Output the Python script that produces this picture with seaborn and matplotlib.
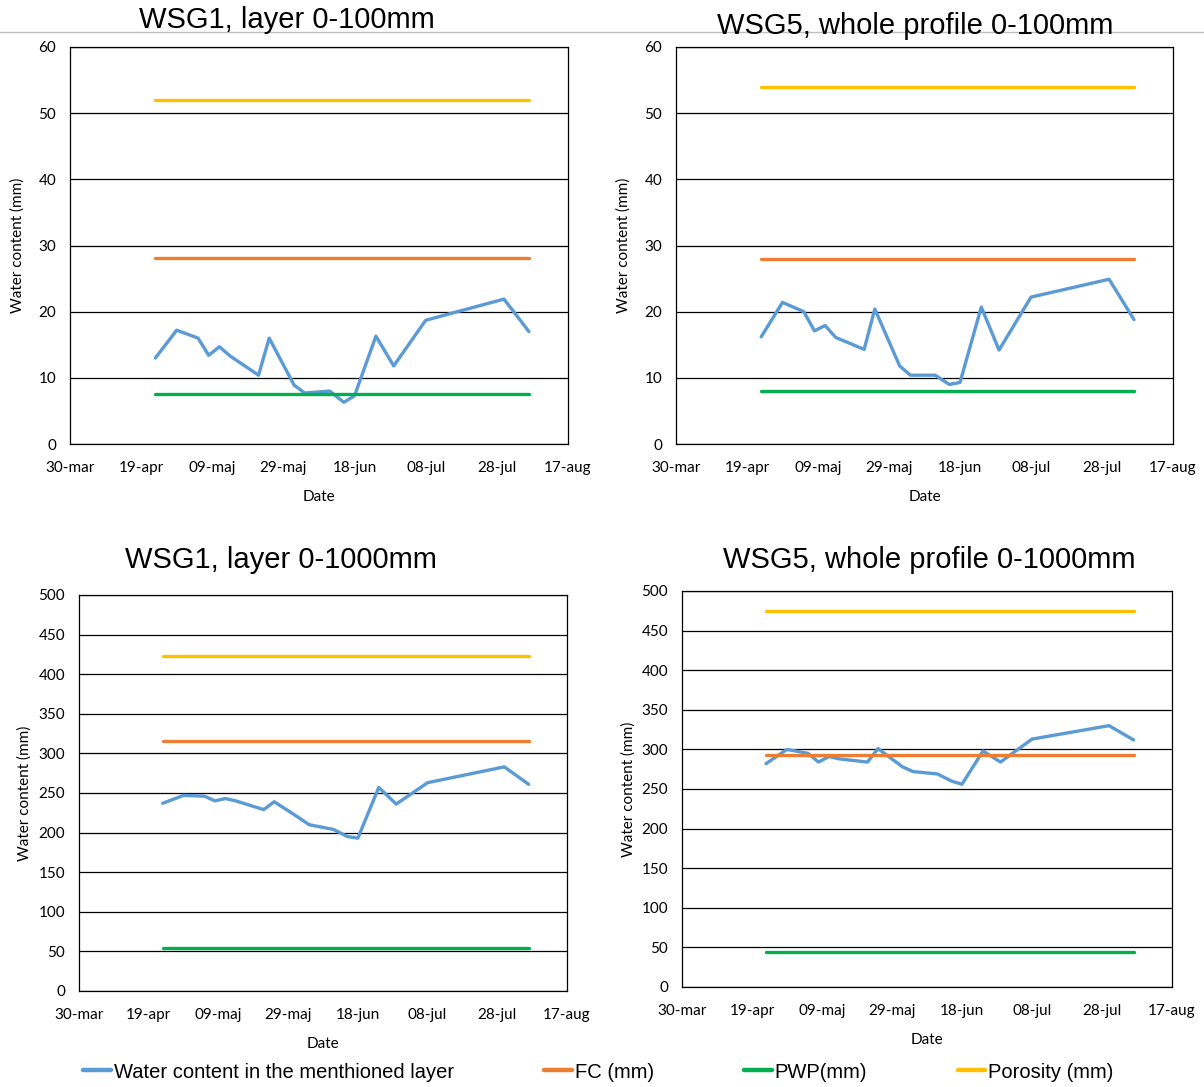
import matplotlib
matplotlib.use("Agg")
import numpy as np
import pandas as pd
import seaborn as sns
import matplotlib.pyplot as plt
import matplotlib.dates as mdates
from matplotlib.ticker import MultipleLocator
from matplotlib.lines import Line2D

sns.set_theme(style="white")
plt.rcParams["font.family"] = ["Lato", "DejaVu Sans"]
plt.rcParams["text.color"] = "#000000"
plt.rcParams["axes.labelcolor"] = "#000000"

# ---------------- data ----------------
dates = ["2018-04-23", "2018-04-29", "2018-05-05", "2018-05-08", "2018-05-11",
         "2018-05-14", "2018-05-22", "2018-05-25", "2018-06-01", "2018-06-04",
         "2018-06-11", "2018-06-15", "2018-06-18", "2018-06-24", "2018-06-29",
         "2018-07-08", "2018-07-30", "2018-08-06"]

wsg1_100 = [13.0, 17.2, 16.0, 13.4, 14.7, 13.3, 10.4, 16.0, 8.9, 7.7,
            8.0, 6.3, 7.3, 16.3, 11.8, 18.7, 21.9, 17.0]
wsg5_100 = [16.2, 21.4, 20.0, 17.1, 17.9, 16.1, 14.3, 20.4, 11.8, 10.4,
            10.4, 9.0, 9.3, 20.7, 14.2, 22.2, 24.9, 18.8]
wsg1_1000 = [237, 247, 246, 240, 243, 240, 229, 239, 219, 210,
             204, 195, 193, 257, 236, 263, 283, 261]
wsg5_1000 = [282, 300, 295, 284, 291, 288, 284, 301, 278, 272,
             269, 260, 256, 298, 284, 313, 330, 312]

fc_values = [28.1, 28.0, 316, 293]
pwp_values = [7.6, 8.0, 54, 44]
porosity_values = [52.0, 54.0, 423, 475]

titles = ["WSG1, layer 0-100mm", "WSG5, whole profile 0-100mm",
          "WSG1, layer 0-1000mm", "WSG5, whole profile 0-1000mm"]

series_names = ["Water content in the menthioned layer", "FC (mm)", "PWP(mm)", "Porosity (mm)"]
series_colors = ["#5B9BD5", "#ED7D31", "#00B050", "#FFC000"]

tick_dates = ["2018-03-30", "2018-04-19", "2018-05-09", "2018-05-29",
              "2018-06-18", "2018-07-08", "2018-07-28", "2018-08-17"]
tick_labels = ["30-mar", "19-apr", "09-maj", "29-maj", "18-jun", "08-jul", "28-jul", "17-aug"]

y_max = [60, 60, 500, 500]
y_major = [10, 10, 50, 50]
y_minor = [2, 2, 10, 10]

# ---------------- layout ----------------
W, H = 1204, 1087
fig = plt.figure(figsize=(W / 100, H / 100), dpi=100)

def px_axes(left, top, right, bottom):
    return fig.add_axes([left / W, 1 - bottom / H, (right - left) / W, (bottom - top) / H])

axes_px = [(70, 47, 568, 444), (676, 47, 1173, 444),
           (79, 595, 567, 991), (682, 591, 1172, 987)]
title_px = [(287, 20), (915, 26), (281, 560), (929, 560)]
ylabel_px = [(18, 245), (624, 245), (25, 793), (629, 789)]

# thin grey separator line across the top
fig.add_artist(Line2D([0, 1], [1 - 32 / H, 1 - 32 / H], color="#BFBFBF", lw=1.0,
                      transform=fig.transFigure, zorder=0))

all_water = [wsg1_100, wsg5_100, wsg1_1000, wsg5_1000]
date_idx = pd.to_datetime(dates)
palette = dict(zip(series_names, series_colors))

for i in range(4):
    ax = px_axes(*axes_px[i])
    n = len(dates)
    df = pd.DataFrame({
        "Date": np.concatenate([date_idx] * 4),
        "value": np.concatenate([all_water[i], [fc_values[i]] * n,
                                 [pwp_values[i]] * n, [porosity_values[i]] * n]),
        "series": np.repeat(series_names, n),
    })
    sns.lineplot(data=df, x="Date", y="value", hue="series", hue_order=series_names,
                 palette=palette, linewidth=2.4, legend=False, ax=ax, sort=False)

    ax.set_xlim(pd.Timestamp(tick_dates[0]), pd.Timestamp(tick_dates[-1]))
    ax.set_ylim(0, y_max[i])
    ax.set_xticks(pd.to_datetime(tick_dates))
    ax.set_xticklabels(tick_labels)
    ax.xaxis.set_minor_locator(mdates.DayLocator(interval=4))
    ax.yaxis.set_major_locator(MultipleLocator(y_major[i]))
    ax.yaxis.set_minor_locator(MultipleLocator(y_minor[i]))
    ax.tick_params(axis="both", which="major", direction="in", length=5, width=0.8,
                   color="#404040", labelsize=11, labelcolor="#000000")
    ax.tick_params(axis="both", which="minor", direction="in", length=4, width=0.8,
                   color="#404040")
    ax.tick_params(axis="x", which="major", pad=12)
    ax.tick_params(axis="y", which="major", pad=10)
    ax.yaxis.grid(True, which="major", color="#000000", linewidth=0.9)
    ax.xaxis.grid(False)
    ax.set_axisbelow(True)
    for s in ax.spines.values():
        s.set_visible(True)
        s.set_color("#000000")
        s.set_linewidth(0.9)
    ax.set_xlabel("Date", fontsize=11, labelpad=11, color="#000000")
    ax.set_ylabel("")
    fig.text(ylabel_px[i][0] / W, 1 - ylabel_px[i][1] / H, "Water content (mm)",
             rotation=90, ha="center", va="center", fontsize=11, color="#000000")
    fig.text(title_px[i][0] / W, 1 - title_px[i][1] / H, titles[i],
             ha="center", va="center", fontsize=21, color="#000000",
             family=["Liberation Sans", "DejaVu Sans"])

handles = [Line2D([0], [0], color=c, lw=3.2) for c in series_colors]
fig.legend(handles, series_names, loc="center", bbox_to_anchor=(0.497, 1 - 1072 / H),
           ncol=4, frameon=False, handlelength=1.35, handletextpad=0.15,
           columnspacing=4.5, labelcolor="#000000",
           prop={"family": ["Liberation Sans", "DejaVu Sans"], "size": 14.5})

fig.savefig("out.png", dpi=100, facecolor="white")
